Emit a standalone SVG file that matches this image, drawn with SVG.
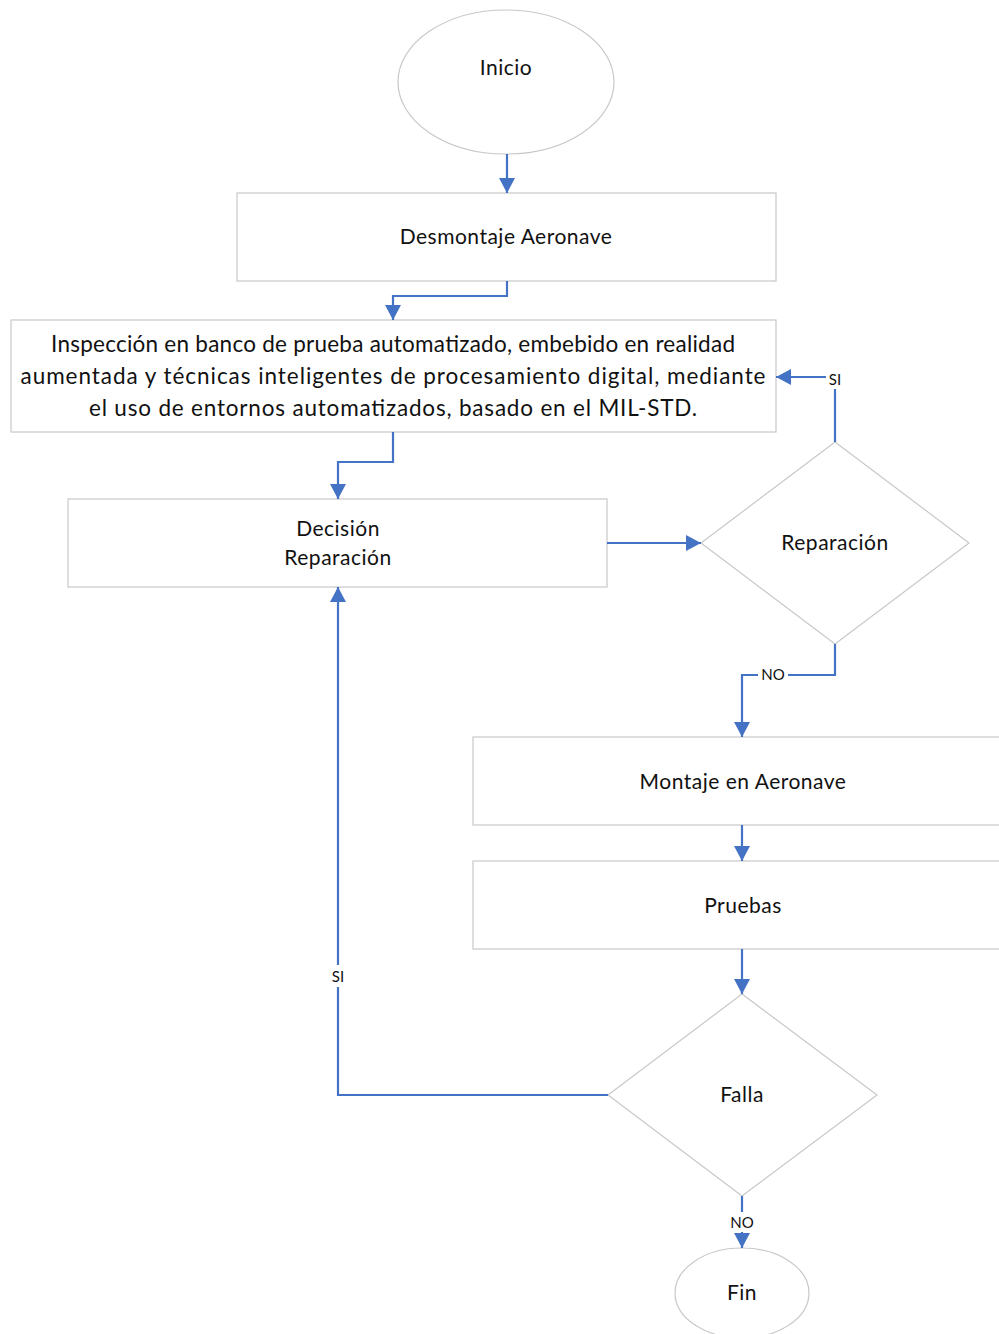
<svg xmlns="http://www.w3.org/2000/svg" width="999" height="1334" viewBox="0 0 999 1334">
  <style>
    .shape { fill: #ffffff; stroke: #c8c8c8; stroke-width: 1.2; }
    .label { font-family: Lato, "Liberation Sans", sans-serif; font-size: 21px; letter-spacing: 0.5px; fill: #111111; text-anchor: middle; }
    .big { font-size: 22.5px; letter-spacing: 0; }
    .edge { fill: none; stroke: #4472c4; stroke-width: 2.2; }
    .tag { font-family: Lato, "Liberation Sans", sans-serif; font-size: 15px; fill: #111111; text-anchor: middle; }
    .tagbg { fill: #ffffff; }
  </style>
  <defs>
    <marker id="arrow" viewBox="0 0 15 16" refX="15" refY="8" markerWidth="15" markerHeight="16" markerUnits="userSpaceOnUse" orient="auto">
      <path d="M0,0 L15,8 L0,16 Z" fill="#4472c4"/>
    </marker>
  </defs>

  <rect width="999" height="1334" fill="#ffffff"/>

  <!-- nodes -->
  <g id="inicio">
    <ellipse class="shape" cx="506" cy="82" rx="108" ry="72"/>
    <text class="label" x="506" y="75">Inicio</text>
  </g>
  <g id="desmontaje">
    <rect class="shape" x="237" y="193" width="539" height="88"/>
    <text class="label" x="506" y="244">Desmontaje Aeronave</text>
  </g>
  <g id="inspeccion">
    <rect class="shape" x="11" y="320" width="765" height="112"/>
    <text class="label big" x="393" y="352" textLength="684" lengthAdjust="spacing">Inspección en banco de prueba automatizado, embebido en realidad</text>
    <text class="label big" x="393" y="384" textLength="745" lengthAdjust="spacing">aumentada y técnicas inteligentes de procesamiento digital, mediante</text>
    <text class="label big" x="393" y="416" textLength="608" lengthAdjust="spacing">el uso de entornos automatizados, basado en el MIL-STD.</text>
  </g>
  <g id="decision">
    <rect class="shape" x="68" y="499" width="539" height="88"/>
    <text class="label" x="338" y="536">Decisión</text>
    <text class="label" x="338" y="565">Reparación</text>
  </g>
  <g id="reparacion">
    <polygon class="shape" points="835,442 969,543 835,644 701,543"/>
    <text class="label" x="835" y="550">Reparación</text>
  </g>
  <g id="montaje">
    <rect class="shape" x="473" y="737" width="540" height="88"/>
    <text class="label" x="743" y="789">Montaje en Aeronave</text>
  </g>
  <g id="pruebas">
    <rect class="shape" x="473" y="861" width="540" height="88"/>
    <text class="label" x="743" y="913">Pruebas</text>
  </g>
  <g id="falla">
    <polygon class="shape" points="742,994 877,1095 742,1196 608,1095"/>
    <text class="label" x="742" y="1102">Falla</text>
  </g>
  <g id="fin">
    <ellipse class="shape" cx="742" cy="1293" rx="67" ry="45"/>
    <text class="label" x="742" y="1300">Fin</text>
  </g>

  <!-- connectors -->
  <g id="connectors">
    <path class="edge" d="M507,154 V193" marker-end="url(#arrow)"/>
    <path class="edge" d="M507,281 V296 H393 V320" marker-end="url(#arrow)"/>
    <path class="edge" d="M393,432 V462 H338 V499" marker-end="url(#arrow)"/>
    <path class="edge" d="M607,543 H701" marker-end="url(#arrow)"/>
    <path class="edge" d="M835,442 V377 H776" marker-end="url(#arrow)"/>
    <path class="edge" d="M835,644 V675 H742 V737" marker-end="url(#arrow)"/>
    <path class="edge" d="M742,825 V861" marker-end="url(#arrow)"/>
    <path class="edge" d="M742,949 V994" marker-end="url(#arrow)"/>
    <path class="edge" d="M608,1095 H338 V587" marker-end="url(#arrow)"/>
    <path class="edge" d="M742,1196 V1248" marker-end="url(#arrow)"/>

    <rect class="tagbg" x="826" y="369" width="18" height="20"/>
    <text class="tag" x="835" y="385">SI</text>
    <rect class="tagbg" x="758" y="666" width="30" height="18"/>
    <text class="tag" x="773" y="680">NO</text>
    <rect class="tagbg" x="328" y="965" width="20" height="22"/>
    <text class="tag" x="338" y="982">SI</text>
    <rect class="tagbg" x="727" y="1212" width="30" height="20"/>
    <text class="tag" x="742" y="1228">NO</text>
  </g>
</svg>
